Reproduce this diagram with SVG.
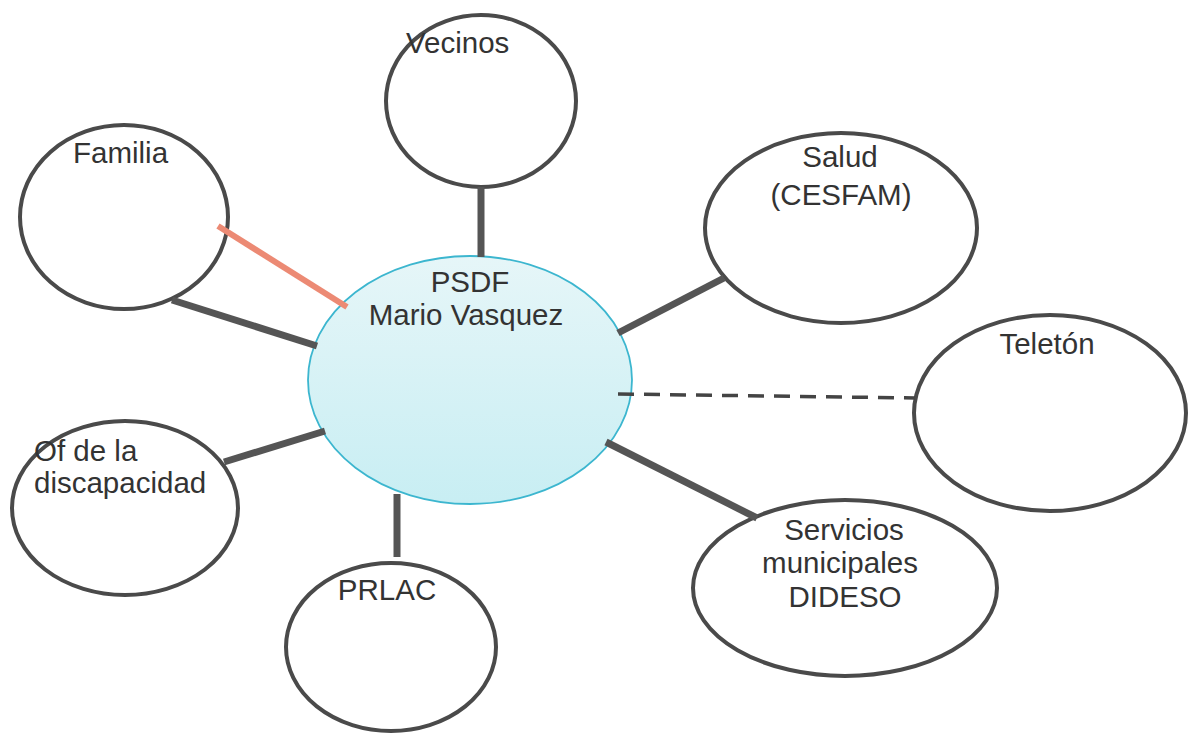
<svg xmlns="http://www.w3.org/2000/svg" width="1193" height="733" viewBox="0 0 1193 733">
<defs>
<linearGradient id="cg" x1="0" y1="0" x2="0" y2="1">
<stop offset="0" stop-color="#e6f6f8"/>
<stop offset="1" stop-color="#c8eef3"/>
</linearGradient>
<style>
.n{fill:#fff;stroke:#4a4a4a;stroke-width:4}
.c{fill:url(#cg);stroke:#3cb6cf;stroke-width:1.8}
.t{font-family:"Liberation Sans",Arial,sans-serif;font-size:29.5px;fill:#333}
.m{text-anchor:middle}
.k{stroke:#555;stroke-width:7;fill:none}
.r{stroke:#ec8a74;stroke-width:6;fill:none}
.d{stroke:#444;stroke-width:3.5;stroke-dasharray:16 10;fill:none}
</style>
</defs>
<rect width="1193" height="733" fill="#fff"/>
<g id="familia">
<ellipse class="n" cx="124" cy="217" rx="104" ry="92"/>
<text class="t" x="73" y="163">Familia</text>
</g>
<g id="vecinos">
<ellipse class="n" cx="481" cy="101" rx="95" ry="86"/>
<text class="t" x="406" y="53">Vecinos</text>
</g>
<g id="salud">
<ellipse class="n" cx="841" cy="228" rx="136" ry="95"/>
<text class="t m" x="840" y="167">Salud</text>
<text class="t m" x="841" y="205">(CESFAM)</text>
</g>
<g id="teleton">
<ellipse class="n" cx="1050" cy="413" rx="136" ry="98"/>
<text class="t m" x="1047" y="354">Teletón</text>
</g>
<g id="servicios">
<ellipse class="n" cx="845" cy="588" rx="152" ry="88"/>
<text class="t m" x="844" y="540">Servicios</text>
<text class="t m" x="840" y="573">municipales</text>
<text class="t m" x="845" y="607">DIDESO</text>
</g>
<g id="prlac">
<ellipse class="n" cx="391" cy="647" rx="105" ry="84"/>
<text class="t m" x="387" y="600">PRLAC</text>
</g>
<g id="discapacidad">
<ellipse class="n" cx="125" cy="508" rx="113" ry="87"/>
<text class="t" x="34" y="461">Of de la</text>
<text class="t" x="34" y="493">discapacidad</text>
</g>
<g id="psdf">
<ellipse class="c" cx="470" cy="380" rx="162" ry="124"/>
<text class="t m" x="470" y="292">PSDF</text>
<text class="t m" x="466" y="325">Mario Vasquez</text>
</g>
<g id="connectors">
<line class="k" x1="481" y1="187" x2="481" y2="257"/>
<line class="r" x1="218" y1="226" x2="347" y2="307"/>
<line class="k" x1="172" y1="300" x2="317" y2="346"/>
<line class="k" x1="618" y1="333" x2="724" y2="278"/>
<line class="d" x1="618" y1="394" x2="915" y2="398"/>
<line class="k" x1="606" y1="442" x2="757" y2="518"/>
<line class="k" x1="224" y1="462" x2="325" y2="431"/>
<line class="k" x1="397" y1="494" x2="397" y2="557"/>
</g>
</svg>
